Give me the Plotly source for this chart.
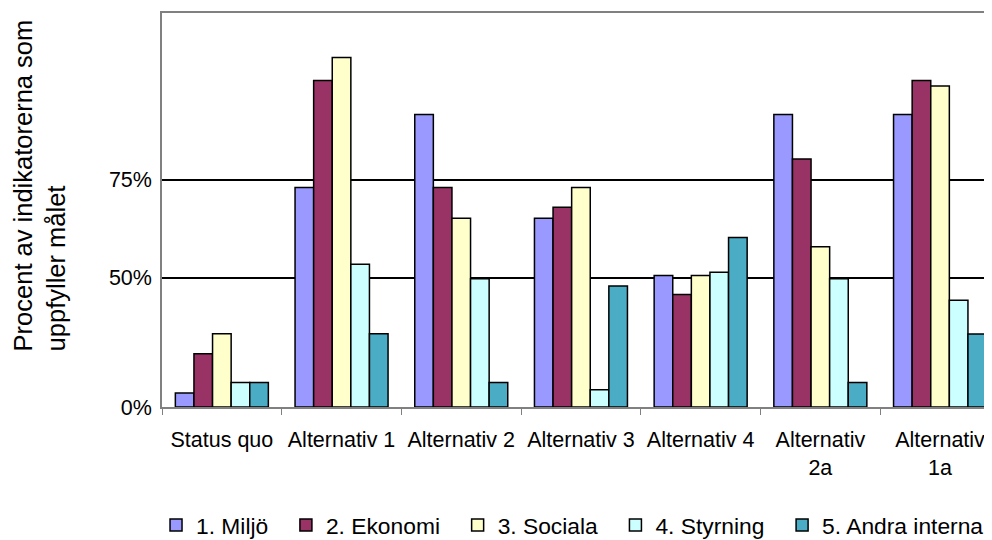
import plotly.graph_objects as go

categories = ["Status quo", "Alternativ 1", "Alternativ 2", "Alternativ 3",
              "Alternativ 4", "Alternativ<br>2a", "Alternativ<br>1a"]
series_names = ["1. Miljö", "2. Ekonomi", "3. Sociala", "4. Styrning", "5. Andra interna"]

# values (in the chart's axis units)
miljo    = [4.6, 72.4, 96.5, 62.3, 43.4, 96.5, 96.5]
ekonomi  = [17.6, 107.7, 72.4, 65.9, 37.1, 81.8, 107.7]
sociala  = [24.2, 115.3, 62.3, 72.4, 43.4, 52.9, 105.9]
styrning = [8.1, 47.1, 42.3, 5.7, 44.5, 42.3, 35.2]
andra    = [8.1, 24.2, 8.1, 39.9, 55.9, 8.1, 24.1]

tick_vals = [0, 42.7, 75]
tick_text = ["0%", "50%", "75%"]

colors = ["#9999FF", "#993366", "#FFFFCC", "#CCFFFF", "#4BACC6"]
series = [miljo, ekonomi, sociala, styrning, andra]

FONT = "Liberation Sans, Arial, sans-serif"
PAD = "\u00a0\u00a0"

fig = go.Figure()
for i, (name, vals, col) in enumerate(zip(series_names, series, colors)):
    label = name + (PAD if i < len(series_names) - 1 else "")
    fig.add_trace(go.Bar(
        x=categories, y=vals, name=label,
        marker=dict(color=col, line=dict(color="black", width=1.5)),
    ))

fig.update_layout(
    width=984, height=532,
    paper_bgcolor="white", plot_bgcolor="white",
    barmode="group", bargap=0.223, bargroupgap=0,
    margin=dict(l=154, r=0, t=4.5, b=133.3, autoexpand=False),
    font=dict(family=FONT, color="black", size=21),
    showlegend=True,
    legend=dict(orientation="h", xref="paper", yref="paper",
                x=-0.0072, xanchor="left", y=-0.300, yanchor="middle",
                font=dict(size=22.8, family=FONT), traceorder="normal",
                itemwidth=30, bgcolor="rgba(0,0,0,0)"),
    xaxis=dict(
        type="category", range=[-0.5, 6.434],
        showline=True, linecolor="#808080", linewidth=1.5, mirror=True,
        ticks="outside", tickson="boundaries", ticklen=6, tickcolor="#808080",
        ticklabelstandoff=12,
        tickfont=dict(size=21.5, family=FONT), showgrid=False,
    ),
    yaxis=dict(
        range=[0, 130], tickvals=tick_vals, ticktext=tick_text,
        showline=True, linecolor="#808080", linewidth=1.5,
        showgrid=True, gridcolor="black", gridwidth=1.5, zeroline=False,
        ticks="", ticklabelstandoff=4, tickfont=dict(size=21.5, family=FONT),
    ),
)

fig.add_annotation(
    text="Procent av indikatorerna som<br>uppfyller målet",
    xref="paper", yref="paper", x=-0.1482, y=0.136,
    xanchor="center", yanchor="bottom", textangle=-90, align="left",
    showarrow=False, font=dict(size=25.5, family=FONT, color="black"),
)

fig.write_html("out.html")
